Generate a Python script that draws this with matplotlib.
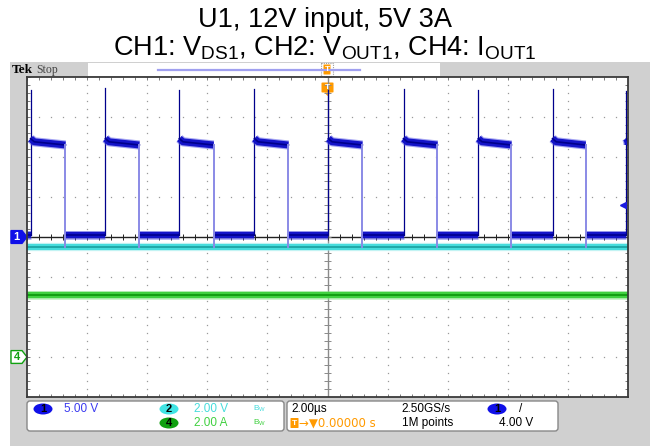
import numpy as np
import matplotlib.pyplot as plt
from matplotlib.patches import FancyBboxPatch, Polygon, Rectangle, Ellipse
from matplotlib.transforms import blended_transform_factory

plt.rcParams['font.family'] = ['Liberation Sans', 'DejaVu Sans']
plt.rcParams['mathtext.fontset'] = 'custom'
plt.rcParams['mathtext.rm'] = 'Liberation Sans'
plt.rcParams['mathtext.it'] = 'Liberation Sans:italic'

# scope settings
time_per_div = 2.0            # us/div, 10 divisions, trigger at centre
ch1_scale, ch1_pos = 5.0, 0.0  # V/div, ground position (div)
ch2_scale, ch2_pos = 2.0, -2.75
ch4_scale, ch4_pos = 2.0, -3.0  # A/div
trig_level = 4.0

# CH1: V_DS switching node (us, V)
rise_t = [-9.88, -7.39, -4.93, -2.43, 0.03, 2.53, 5.02, 7.49, 9.95]
fall_t = [-8.72, -6.26, -3.79, -1.30, 1.16, 3.66, 6.12, 8.59]
spike_v = [18.4, 18.6, 18.4, 18.5, 18.4, 18.5, 18.4, 18.5, 18.3]
overshoot_v = 12.3
high_start_v = 11.9
high_end_v = 11.5
low_v = 0.25
undershoot_v = -1.3

# CH2: V_OUT (V), CH4: I_OUT (A)
vout_v = 5.0
iout_a = 3.1

# status readouts
ch1_label = '5.00 V'
ch2_label = '2.00 V'
ch4_label = '2.00 A'
horiz_label = '2.00\u00b5s'
rate_label = '2.50GS/s'
delay_label = '0.00000 s'
length_label = '1M points'
trig_label = '4.00 V'

BLUE = '#1414c8'
BLUE_HALO = '#5a5ae8'
BLUE_DARK = '#00008c'
BLUE_EDGE = '#8a8ae6'
CYAN = '#46dcdc'
CYAN_DARK = '#18a0a0'
GREEN = '#40d040'
GREEN_DARK = '#0a960a'
ORANGE = '#ff9a00'
GRAY_BG = '#d0d0d0'

W, H = 650, 446
fig = plt.figure(figsize=(W / 100, H / 100), dpi=100)

# background layer in pixel coords
bg = fig.add_axes([0, 0, 1, 1], zorder=0)
bg.set_xlim(0, W)
bg.set_ylim(H, 0)
bg.axis('off')
bg.add_patch(Rectangle((10, 62), W - 10, H - 62, color=GRAY_BG, lw=0))

fig.text(325 / W, 1 - 27 / H, 'U1, 12V input, 5V 3A', ha='center',
         va='baseline', fontsize=19.5)
fig.text(325 / W, 1 - 55 / H,
         r'CH1: V$_{\mathrm{DS1}}$, CH2: V$_{\mathrm{OUT1}}$, CH4: I$_{\mathrm{OUT1}}$',
         ha='center', va='baseline', fontsize=19.5)

# top bar
bg.text(12, 70, 'Tek', fontsize=9.5, fontweight='bold', family='Liberation Serif',
        va='center', ha='left')
bg.text(36, 70, 'Stop', fontsize=8.5, family='Liberation Serif', color='#444444',
        va='center', ha='left')
bg.add_patch(Rectangle((88, 63), 352, 13, color='white', lw=0))
bg.plot([158, 360], [69.5, 69.5], color='#a0a0f0', lw=1.6)
bg.add_patch(Rectangle((321, 63), 12, 13, fill=False, ec='#a0a0a0', lw=0.8, ls=(0, (1, 1))))
bg.add_patch(FancyBboxPatch((324, 65), 6, 9, boxstyle='round,pad=0.5', fc=ORANGE, ec='none'))
bg.text(327, 69.8, 'T', fontsize=6, color='white', ha='center', va='center', fontweight='bold')

# status boxes
for x0, x1 in [(27, 284), (287, 558)]:
    bg.add_patch(FancyBboxPatch((x0 + 3, 401 + 3), x1 - x0 - 6, 30 - 6,
                                boxstyle='round,pad=3', fc='white', ec='#888888', lw=1))


def badge(x, y, txt, color):
    bg.add_patch(Ellipse((x, y), 19, 11, color=color, lw=0))
    bg.text(x, y + 0.3, txt, fontsize=8, fontweight='bold', ha='center', va='center')


stat_kw = dict(fontsize=8.5, va='center', ha='left')
badge(43, 409, '1', '#1010e8')
bg.text(64, 409, ch1_label, color='#3a3af0', **stat_kw)
badge(169, 409, '2', '#40e4e4')
bg.text(194, 409, ch2_label, color=CYAN, **stat_kw)
bg.text(253, 409, 'B$_{\\mathrm{W}}$', color=CYAN, fontsize=6, va='center')
badge(169, 423, '4', '#10a010')
bg.text(194, 423, ch4_label, color=GREEN, **stat_kw)
bg.text(253, 423, 'B$_{\\mathrm{W}}$', color=GREEN, fontsize=6, va='center')

bg.text(291, 409, horiz_label, color='black', **stat_kw)
bg.text(401, 409, rate_label, color='black', **stat_kw)
badge(497, 409, '1', '#1010e8')
bg.text(519, 409, '/', color='black', **stat_kw)
bg.add_patch(FancyBboxPatch((291, 418.5), 7, 9, boxstyle='round,pad=0.5', fc=ORANGE, ec='none'))
bg.text(294.5, 423.3, 'T', fontsize=6, color='white', ha='center', va='center', fontweight='bold')
bg.text(299, 423, '\u2192\u25bc' + delay_label, color=ORANGE, fontsize=8.5,
        va='center', ha='left', family=['DejaVu Sans'])
bg.text(402, 423, length_label, color='black', **stat_kw)
bg.text(499, 423, trig_label, color='black', **stat_kw)

# graticule
ax = fig.add_axes([27 / W, 1 - 397 / H, 601 / W, 320 / H], zorder=2)
ax.set_facecolor('white')
ax.set_xlim(-5 * time_per_div, 5 * time_per_div)
ax.set_ylim(-4, 4)
ax.set_xticks([])
ax.set_yticks([])
for s in ax.spines.values():
    s.set_color('#3a3a3a')
    s.set_linewidth(1.3)

dot = dict(ls='none', marker='s', ms=0.9, mec='none', mfc='#9a9a9a')
yy = np.arange(-4, 4.01, 0.2)
xx = np.arange(-10, 10.01, 0.4)
for t in np.arange(-8, 8.1, 2):
    if t != 0:
        ax.plot(np.full(yy.size, t), yy, **dot)
for d in range(-3, 4):
    if d != 0:
        ax.plot(xx, np.full(xx.size, d), **dot)
tick_kw = dict(color='#7a7a7a', lw=0.7)
ax.vlines(xx, 4 - 0.08, 4, **tick_kw)
ax.vlines(xx, -4, -4 + 0.08, **tick_kw)
ax.hlines(yy, -10, -10 + 0.1, **tick_kw)
ax.hlines(yy, 10 - 0.1, 10, **tick_kw)
ax.axvline(0, color='#8a8a8a', lw=1.0)
ax.axhline(0, color='#222222', lw=1.0)
ax.hlines(yy, -0.1, 0.1, color='#8a8a8a', lw=0.7)
ax.vlines(xx, -0.08, 0.08, color='#222222', lw=0.7)


def to_div(v, scale, pos):
    return np.asarray(v, dtype=float) / scale + pos


def band(tt, yv, halo, body, core, w):
    # persistence-style trace: soft outer band, solid body, dark centre
    ax.plot(tt, yv, color=halo, lw=w + 1.6, alpha=0.55, solid_capstyle='butt')
    ax.plot(tt, yv, color=body, lw=w, solid_capstyle='butt')
    ax.plot(tt, yv, color=core, lw=1.2)


# CH4 and CH2 traces
t_full = [-10, 10]
band(t_full, to_div([iout_a, iout_a], ch4_scale, ch4_pos), '#90e890', GREEN, GREEN_DARK, 4.6)
band(t_full, to_div([vout_v, vout_v], ch2_scale, ch2_pos), '#a0eeee', CYAN, CYAN_DARK, 4.4)

# CH1 trace
low_starts = [-10] + fall_t
low_ends = rise_t
for s, e in zip(low_starts, low_ends):
    band([s, e], to_div([low_v, low_v], ch1_scale, ch1_pos), BLUE_HALO, BLUE, BLUE_DARK, 4.6)
high_ends = fall_t + [10]
for i, (r, f) in enumerate(zip(rise_t, high_ends)):
    ax.plot([r, r], to_div([low_v, spike_v[i]], ch1_scale, ch1_pos), color=BLUE_DARK, lw=0.9)
    tt = [r, min(r + 0.12, f), f]
    vv = [overshoot_v, high_start_v, high_end_v]
    band(tt, to_div(vv, ch1_scale, ch1_pos), BLUE_HALO, BLUE, BLUE_DARK, 5.0)
for f in fall_t:
    ax.plot([f, f], to_div([high_end_v, undershoot_v], ch1_scale, ch1_pos), color=BLUE_EDGE,
            lw=1.4)

# trigger level arrow on the right edge
trig_y = to_div(trig_level, ch1_scale, ch1_pos)
ax.plot([9.85], [trig_y], marker='<', ms=5, color='#1a1ae0', clip_on=False)

# channel ground markers on the left
lt = blended_transform_factory(bg.transData, ax.transData)
for pos, txt, fc, ec, tc in [(ch1_pos, '1', '#1010e8', '#1010e8', 'white'),
                             (ch4_pos, '4', 'white', '#10a010', '#10a010')]:
    pts = [(11, pos + 0.16), (22, pos + 0.16), (27, pos), (22, pos - 0.16), (11, pos - 0.16)]
    ax.add_patch(Polygon(pts, closed=True, fc=fc, ec=ec, lw=1, transform=lt, clip_on=False))
    ax.text(16.5, pos, txt, transform=lt, color=tc, fontsize=8, fontweight='bold',
            ha='center', va='center')

# trigger position marker at the top of the graticule
tt_tr = blended_transform_factory(ax.transData, bg.transData)
ax.add_patch(FancyBboxPatch((-0.15, 83), 0.3, 9, boxstyle='round,pad=0.05',
                            fc=ORANGE, ec='none', transform=tt_tr, clip_on=False,
                            mutation_aspect=10))
ax.text(0, 87.8, 'T', transform=tt_tr, color='white', fontsize=6, fontweight='bold',
        ha='center', va='center')
ax.add_patch(Polygon([(-0.1, 92.5), (0.1, 92.5), (0, 96)], closed=True, fc=ORANGE,
                     ec='none', transform=tt_tr, clip_on=False))

fig.savefig('out.png', dpi=100)
